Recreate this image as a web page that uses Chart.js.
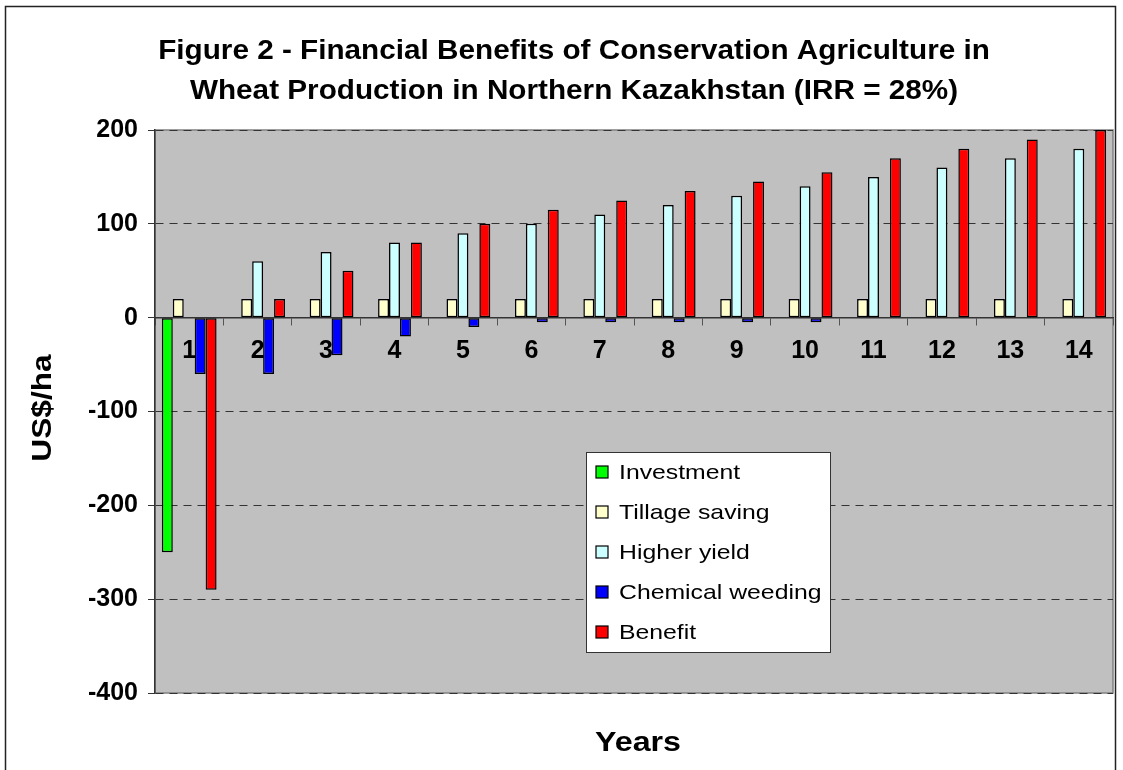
<!DOCTYPE html>
<html>
<head>
<meta charset="utf-8">
<script src="https://cdn.jsdelivr.net/npm/chart.js@4"></script>
<style>
  html, body { margin: 0; padding: 0; background: #fff; }
  #wrap { width: 1123px; height: 770px; }
</style>
</head>
<body>
<div id="wrap"><canvas id="cafig"></canvas></div>
<script>
const years = ['1', '2', '3', '4', '5', '6', '7', '8', '9', '10', '11', '12', '13', '14'];
const investment = [-250, null, null, null, null, null, null, null, null, null, null, null, null, null];
const tillageSaving = [20, 20, 20, 20, 20, 20, 20, 20, 20, 20, 20, 20, 20, 20];
const higherYield = [null, 60, 70, 80, 90, 100, 110, 120, 130, 140, 150, 160, 170, 180];
const chemicalWeeding = [-60, -60, -40, -20, -10, -5, -5, -5, -5, -5, null, null, null, null];
const benefit = [-290, 20, 50, 80, 100, 115, 125, 135, 145, 155, 170, 180, 190, 200];
const yTicks = [-400, -300, -200, -100, 0, 100, 200];

const FONT = 'Arial, "Liberation Sans", sans-serif';

// text drawn a little wider than the font, like the original export
function wideText(ctx, txt, x, y, sx) {
  ctx.save();
  ctx.translate(x, y);
  ctx.scale(sx, 1);
  ctx.fillText(txt, 0, 0);
  ctx.restore();
}

const frame = {
  id: 'frame',
  beforeDraw(chart) {
    const { ctx, chartArea: a } = chart;
    ctx.save();
    ctx.fillStyle = '#fff';
    ctx.fillRect(0, 0, chart.width, chart.height);
    ctx.strokeStyle = '#222';
    ctx.lineWidth = 1.5;
    ctx.strokeRect(5.5, 6.5, 1110, 800);
    ctx.fillStyle = '#c0c0c0';
    ctx.fillRect(a.left, a.top, a.right - a.left, a.bottom - a.top);
    ctx.strokeStyle = '#808080';
    ctx.lineWidth = 1.5;
    ctx.strokeRect(a.left, a.top, a.right - a.left, a.bottom - a.top);
    ctx.restore();
  },
  afterDraw(chart) {
    const { ctx } = chart;
    ctx.save();
    ctx.fillStyle = '#000';
    ctx.textAlign = 'center';
    ctx.textBaseline = 'middle';
    ctx.font = 'bold 27px ' + FONT;
    wideText(ctx, 'Figure 2 - Financial Benefits of Conservation Agriculture in', 574, 52, 1.1);
    wideText(ctx, 'Wheat Production in Northern Kazakhstan (IRR = 28%)', 574, 92, 1.1);
    ctx.font = 'bold 28px ' + FONT;
    wideText(ctx, 'Years', 638, 743, 1.15);
    ctx.save();
    ctx.translate(43, 408);
    ctx.rotate(-Math.PI / 2);
    wideText(ctx, 'US$/ha', 0, 0, 1.13);
    ctx.restore();
    // legend box
    const lx = 586, ly = 452, lw = 244, lh = 200;
    ctx.fillStyle = '#fff';
    ctx.fillRect(lx, ly, lw, lh);
    ctx.strokeStyle = '#333';
    ctx.lineWidth = 1;
    ctx.strokeRect(lx + 0.5, ly + 0.5, lw, lh);
    ctx.font = '21px ' + FONT;
    ctx.textAlign = 'left';
    chart.data.datasets.forEach((ds, i) => {
      const cy = ly + 20 + i * 40;
      ctx.fillStyle = ds.backgroundColor;
      ctx.fillRect(lx + 10, cy - 6, 12, 12);
      ctx.strokeStyle = '#000';
      ctx.lineWidth = 1.2;
      ctx.strokeRect(lx + 10, cy - 6, 12, 12);
      ctx.fillStyle = '#000';
      wideText(ctx, ds.label, lx + 33, cy + 1, 1.18);
    });
    ctx.restore();
  }
};

const series = [
  { label: 'Investment', data: investment, color: '#00ff00' },
  { label: 'Tillage saving', data: tillageSaving, color: '#ffffcc' },
  { label: 'Higher yield', data: higherYield, color: '#ccffff' },
  { label: 'Chemical weeding', data: chemicalWeeding, color: '#0000ff' },
  { label: 'Benefit', data: benefit, color: '#ff0000' }
];

new Chart(document.getElementById('cafig'), {
  type: 'bar',
  data: {
    labels: years,
    datasets: series.map(s => ({
      label: s.label,
      data: s.data,
      backgroundColor: s.color,
      borderColor: '#000',
      borderWidth: 1.5,
      borderSkipped: false,
      categoryPercentage: 0.8,
      barPercentage: 1
    }))
  },
  options: {
    responsive: true,
    maintainAspectRatio: false,
    animation: false,
    layout: { padding: { left: 7, right: 10, top: 130, bottom: 77 } },
    plugins: {
      legend: { display: false },
      title: { display: false },
      tooltip: { enabled: false }
    },
    scales: {
      x: {
        position: { y: 0 },
        grid: {
          offset: true,
          drawOnChartArea: false,
          drawTicks: true,
          tickLength: 7,
          color: '#555'
        },
        border: { display: true, color: '#333', width: 1.5 },
        ticks: {
          padding: 11,
          color: '#000',
          font: { family: FONT, size: 25, weight: 'bold' }
        }
      },
      y: {
        min: -400,
        max: 200,
        afterFit(scale) { scale.width = 148; },
        afterBuildTicks(scale) { scale.ticks = yTicks.map(v => ({ value: v })); },
        grid: {
          color: '#333',
          lineWidth: 1,
          tickLength: 7,
          tickColor: '#333',
          tickBorderDash: []
        },
        border: { display: true, color: '#333', width: 1.5, dash: [8, 6] },
        ticks: {
          padding: 10,
          color: '#000',
          font: { family: FONT, size: 25, weight: 'bold' }
        }
      }
    }
  },
  plugins: [frame]
});
</script>
</body>
</html>
